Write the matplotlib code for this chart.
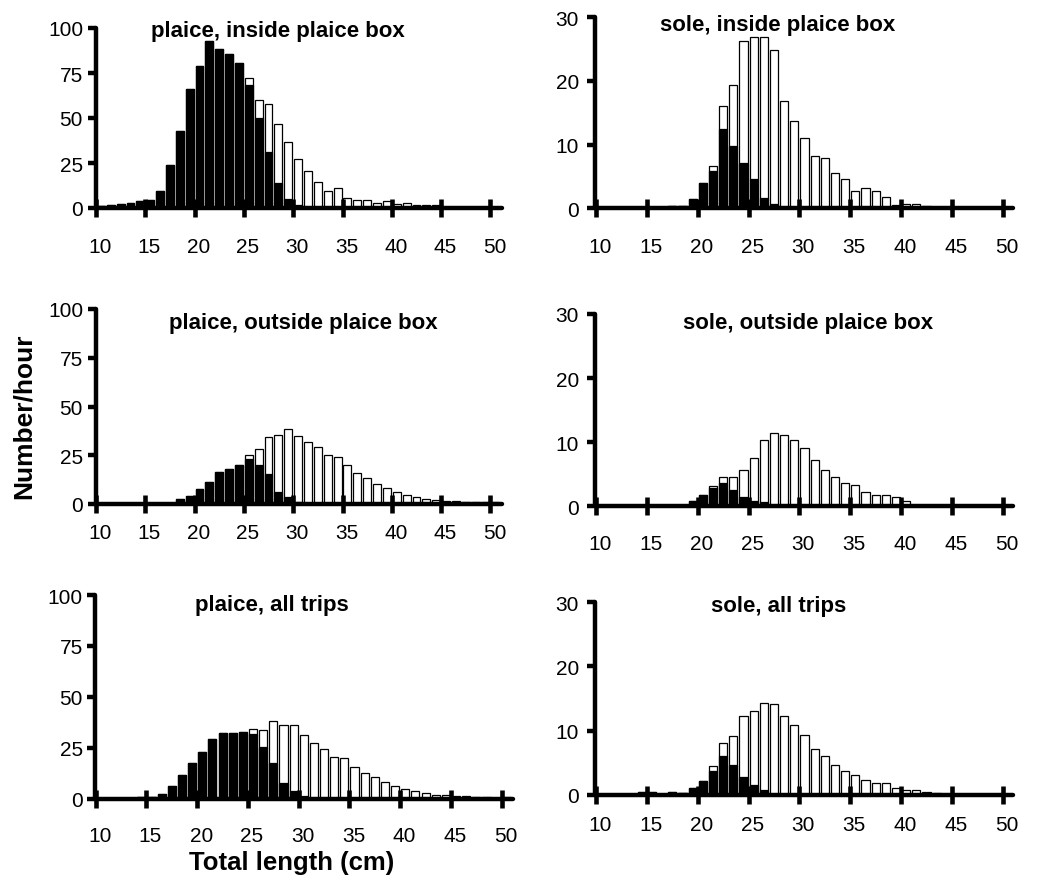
import numpy as np
import matplotlib
matplotlib.use('Agg')
import matplotlib.pyplot as plt
import matplotlib.transforms as mtransforms

# length classes (cm)
lengths = np.arange(10, 51)

# catch per hour (white = total, black = discards)
plaice_in_total = [1.0, 1.5, 2.0, 3.0, 4.0, 4.5, 9.6, 24, 43, 66,
                   79, 93, 88.5, 85.5, 80.5, 72, 60, 58, 46.7, 36.7,
                   27, 20.7, 14.3, 9.4, 11, 5.7, 4.4, 4.4, 3.0, 3.9,
                   2.4, 2.8, 1.9, 1.7, 1.5, 0.8, 0.6, 0.5, 0.4, 0.3, 0.5]
plaice_in_disc = [1.0, 1.5, 2.0, 3.0, 4.0, 4.5, 9.6, 24, 43, 66,
                  79, 93, 88.5, 85.5, 80.5, 68.5, 50, 31, 14, 5,
                  1.5, 0, 0, 0, 0, 0, 0, 0, 0, 0,
                  0, 0, 0, 0, 0, 0, 0, 0, 0, 0, 0]

plaice_out_total = [0, 0, 0, 0, 0, 0, 0, 0, 2.5, 4.0,
                    7.7, 11.5, 16.6, 17.8, 20.2, 25, 28.3, 34.6, 35.4, 38.7,
                    34.8, 31.7, 29.3, 25.2, 24.1, 19.9, 16.1, 13.5, 10.1, 8.0,
                    6.0, 4.5, 3.4, 2.7, 2.1, 1.7, 1.4, 1.2, 1.2, 0.9, 1.2]
plaice_out_disc = [0, 0, 0, 0, 0, 0, 0, 0, 2.5, 4.0,
                   7.7, 11.5, 16.6, 17.8, 20.2, 23.1, 20.2, 15.2, 6.4, 3.8,
                   1.2, 0, 0, 0, 0, 0, 0, 0, 0, 0,
                   0, 0, 0, 0, 0, 0, 0, 0, 0, 0, 0]

plaice_all_total = [0.2, 0.2, 0.3, 0.6, 1.0, 1.1, 2.5, 6.2, 11.9, 17.8,
                    23.2, 29.6, 32.5, 32.2, 33, 34.3, 34, 38.2, 36.4, 36.4,
                    31.5, 27.6, 24.5, 20.4, 20.1, 15.7, 12.9, 10.8, 8.2, 6.4,
                    4.9, 3.9, 2.8, 2.1, 1.8, 1.5, 1.3, 1.1, 0.8, 0.6, 1.1]
plaice_all_disc = [0.2, 0.2, 0.3, 0.6, 1.0, 1.1, 2.5, 6.2, 11.9, 17.8,
                   23.2, 29.6, 32.5, 32.2, 33, 31.9, 25.7, 17.8, 7.7, 3.8,
                   1.5, 0, 0, 0, 0, 0, 0, 0, 0, 0,
                   0, 0, 0, 0, 0, 0, 0, 0, 0, 0, 0]

sole_in_total = [0, 0, 0, 0, 0, 0, 0, 0.35, 0.3, 1.5,
                 3.9, 6.6, 16, 19.3, 26.3, 26.9, 26.9, 24.8, 16.9, 13.7,
                 11.1, 8.2, 7.9, 5.5, 4.6, 2.7, 3.2, 2.7, 1.7, 0.5,
                 0.7, 0.6, 0.3, 0.25, 0, 0, 0, 0, 0, 0, 0]
sole_in_disc = [0, 0, 0, 0, 0, 0, 0, 0.35, 0.3, 1.5,
                3.9, 5.8, 12.4, 9.8, 7.1, 4.6, 1.6, 0.6, 0, 0,
                0, 0, 0, 0, 0, 0, 0, 0, 0, 0,
                0, 0, 0, 0, 0, 0, 0, 0, 0, 0, 0]

sole_out_total = [0, 0, 0, 0, 0, 0, 0, 0, 0, 0.8,
                  1.7, 3.2, 4.6, 4.6, 5.7, 7.5, 10.4, 11.5, 11.1, 10.4,
                  9.1, 7.2, 5.7, 4.6, 3.7, 3.4, 2.3, 1.8, 1.8, 1.4,
                  0.9, 0, 0, 0, 0, 0, 0, 0, 0, 0, 0]
sole_out_disc = [0, 0, 0, 0, 0, 0, 0, 0, 0, 0.8,
                 1.7, 2.9, 3.6, 2.6, 1.5, 0.8, 0.7, 0, 0, 0,
                 0, 0, 0, 0, 0, 0, 0, 0, 0, 0,
                 0, 0, 0, 0, 0, 0, 0, 0, 0, 0, 0]

sole_all_total = [0, 0, 0, 0, 0.45, 0.45, 0.1, 0.35, 0.3, 1.0,
                  2.2, 4.4, 8.0, 9.1, 12.3, 13.0, 14.3, 14.2, 12.2, 10.9,
                  9.3, 7.2, 6.1, 4.7, 3.7, 3.1, 2.3, 1.9, 1.8, 1.1,
                  0.8, 0.8, 0.45, 0.2, 0.15, 0.1, 0.1, 0.1, 0.1, 0.1, 0.1]
sole_all_disc = [0, 0, 0, 0, 0.45, 0.45, 0.1, 0.35, 0.3, 1.0,
                 2.2, 3.7, 6.0, 4.6, 2.7, 1.5, 0.7, 0, 0, 0,
                 0, 0, 0, 0, 0, 0, 0, 0, 0, 0,
                 0, 0, 0, 0, 0, 0, 0, 0, 0, 0, 0]

titles = ['plaice, inside plaice box', 'sole, inside plaice box',
          'plaice, outside plaice box', 'sole, outside plaice box',
          'plaice, all trips', 'sole, all trips']
x_ticks = [10, 15, 20, 25, 30, 35, 40, 45, 50]
plaice_yticks = [0, 25, 50, 75, 100]
sole_yticks = [0, 10, 20, 30]

W, H = 1039, 887
plt.rcParams['font.family'] = ['Liberation Sans', 'DejaVu Sans']

fig = plt.figure(figsize=(W / 100, H / 100), dpi=100)


def px_box(x10, px_cm, xmax, y0, ytop):
    # axes rect from pixel measurements (x of 10 cm, px per cm, y of zero / top)
    l = x10 - 0.05 * px_cm
    w = (xmax - 9.95) * px_cm
    return [l / W, (H - y0) / H, w / W, (y0 - ytop) / H]


# rect, total, discards, yticks, xmax, title pos (px), y label pad, x label pad
panels = [
    (px_box(96, 9.86, 51.2, 209, 29), plaice_in_total, plaice_in_disc, plaice_yticks, 51.2, (278, 32), 3, 14.5),
    (px_box(596, 10.17, 51.05, 209.3, 18.3), sole_in_total, sole_in_disc, sole_yticks, 51.05, (778, 26), 6, 14),
    (px_box(96, 9.86, 51.2, 505, 310), plaice_out_total, plaice_out_disc, plaice_yticks, 51.2, (303, 323), 3, 7.5),
    (px_box(596, 10.17, 51.05, 507.3, 315), sole_out_total, sole_out_disc, sole_yticks, 51.05, (808, 323), 6, 13.2),
    (px_box(95.7, 10.15, 51.15, 800, 596), plaice_all_total, plaice_all_disc, plaice_yticks, 51.15, (272, 606), 3, 13.2),
    (px_box(596, 10.17, 51.05, 795.7, 603.3), sole_all_total, sole_all_disc, sole_yticks, 51.05, (779, 607), 6, 8.2),
]

offset = mtransforms.ScaledTranslation(4 / 100, 0, fig.dpi_scale_trans)

for (rect, total, disc, yt, xmax, tpos, ypad, xpad), title in zip(panels, titles):
    ax = fig.add_axes(rect)
    ax.bar(lengths + 0.5, total, width=0.8, color='white', edgecolor='black', linewidth=0.9, zorder=1)
    ax.bar(lengths + 0.5, disc, width=0.8, color='black', edgecolor='black', linewidth=0.9, zorder=1.5)
    ax.set_xlim(9.95, xmax)
    ax.set_ylim(0, yt[-1])
    ax.set_xticks(x_ticks)
    ax.set_yticks(yt)
    for s in ['top', 'right']:
        ax.spines[s].set_visible(False)
    for s in ['left', 'bottom']:
        ax.spines[s].set_linewidth(3.2)
        ax.spines[s].set_capstyle('round')
    ax.tick_params(axis='x', direction='inout', length=13, width=3.3, pad=xpad, labelsize=15)
    ax.tick_params(axis='y', direction='out', length=6, width=3.2, pad=ypad, labelsize=15)
    for lab in ax.get_xticklabels():
        lab.set_transform(lab.get_transform() + offset)
    fig.text(tpos[0] / W, 1 - tpos[1] / H, title, ha='center', va='center',
             fontsize=16, fontweight='bold')

fig.text(24 / W, 1 - 416 / H, 'Number/hour', rotation=90, ha='center', va='center',
         fontsize=19, fontweight='bold')
fig.text(292 / W, 1 - 863 / H, 'Total length (cm)', ha='center', va='center',
         fontsize=18.5, fontweight='bold')

fig.savefig('out.png', dpi=100)
